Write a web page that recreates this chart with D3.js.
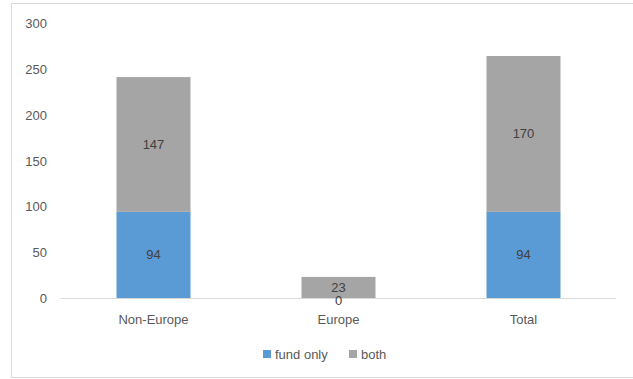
<!DOCTYPE html>
<html><head><meta charset="utf-8">
<script src="https://cdn.jsdelivr.net/npm/d3@7/dist/d3.min.js"></script>
<style>body{margin:0;background:#fff}text{font-family:"Liberation Sans","DejaVu Sans",sans-serif}</style>
</head><body><svg id="c" width="633" height="379"></svg>
<script>
const categories = ["Non-Europe", "Europe", "Total"];
const fundOnly = [94, 0, 94];
const both = [147, 23, 170];
const seriesNames = ["fund only", "both"];
const yTicks = [0, 50, 100, 150, 200, 250, 300];
const colors = ["#5B9BD5", "#A5A5A5"];

const svg = d3.select("#c");
svg.append("rect").attr("x", 11.5).attr("y", 3.5).attr("width", 630).attr("height", 374)
  .attr("fill", "#fff").attr("stroke", "#d9d9d9");

const x = d3.scaleBand().domain(categories).range([61, 616]).paddingInner(0.6).paddingOuter(0.3);
const y = d3.scaleLinear().domain([0, 300]).range([298, 23]);

const data = categories.map((c, i) => ({cat: c, "fund only": fundOnly[i], "both": both[i]}));
const stack = d3.stack().keys(seriesNames)(data);

stack.forEach((s, si) => {
  svg.append("g").selectAll("rect").data(s).join("rect")
    .attr("x", d => x(d.data.cat)).attr("width", x.bandwidth())
    .attr("y", d => y(d[1])).attr("height", d => y(d[0]) - y(d[1]))
    .attr("fill", colors[si]);
});

// axis line
svg.append("line").attr("x1", 61).attr("x2", 616).attr("y1", y(0) + 0.5).attr("y2", y(0) + 0.5)
  .attr("stroke", "#d9d9d9");

// y ticks
const ya = d3.axisLeft(y).tickValues(yTicks).tickSize(0).tickPadding(0);
const gy = svg.append("g").attr("transform", "translate(47,0)").call(ya);
gy.select(".domain").remove();
gy.selectAll("text").attr("fill", "#595959").style("font-size", "13px").attr("dy", "0.35em");

// x labels
const xa = d3.axisBottom(x).tickSize(0).tickPadding(0);
const gx = svg.append("g").attr("transform", "translate(0,315)").call(xa);
gx.select(".domain").remove();
gx.selectAll("text").attr("fill", "#595959").style("font-size", "13px").attr("dy", "0.71em");

// data labels
stack.forEach((s, si) => {
  svg.append("g").selectAll("text").data(s).join("text")
    .attr("x", d => x(d.data.cat) + x.bandwidth() / 2)
    .attr("y", d => (y(d[0]) + y(d[1])) / 2 + (d[1] - d[0] === 0 ? 2 : 0))
    .attr("dy", "0.35em").attr("text-anchor", "middle")
    .attr("fill", "#404040").style("font-size", "13px")
    .text(d => d[1] - d[0]);
});

// legend
const lg = svg.append("g").attr("transform", "translate(0,354)");
const legendX = [263, 349];
seriesNames.forEach((n, i) => {
  lg.append("rect").attr("x", legendX[i]).attr("y", -4).attr("width", 8).attr("height", 8).attr("fill", colors[i]);
  lg.append("text").attr("x", legendX[i] + 12).attr("y", 0).attr("dy", "0.35em")
    .attr("fill", "#595959").style("font-size", "13px").text(n);
});
</script></body></html>
